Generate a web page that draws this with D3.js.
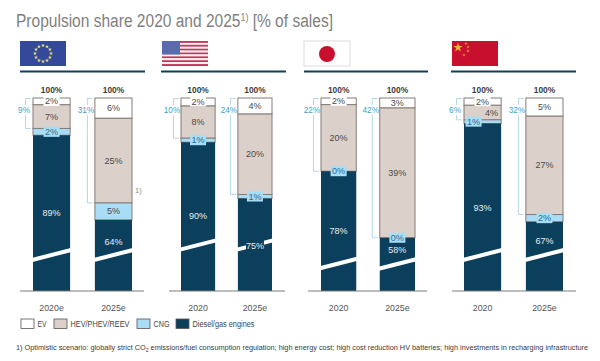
<!DOCTYPE html>
<html>
<head>
<meta charset="utf-8">
<script src="https://cdn.jsdelivr.net/npm/d3@7"></script>
<style>
  html, body { margin: 0; padding: 0; background: #fff; }
  svg { display: block; }
  text { font-family: "Liberation Sans", Arial, sans-serif; }
</style>
</head>
<body>
<div class="canva"></div>
<script>
const regions = ['EU', 'USA', 'Japan', 'China']
const years = [['2020e', '2025e'], ['2020', '2025e'], ['2020', '2025e'], ['2020', '2025e']]
const ev = [[2, 6], [2, 4], [2, 3], [2, 5]]
const hev = [[7, 25], [8, 20], [20, 39], [4, 27]]
const cng = [[2, 5], [1, 1], [0, 0], [1, 2]]
const diesel = [[89, 64], [90, 75], [78, 58], [93, 67]]
const electrified = [[9, 31], [10, 24], [22, 42], [6, 32]]
const seriesKeys = ['ev', 'hev', 'cng', 'diesel']
const legendLabels = ['EV', 'HEV/PHEV/REEV', 'CNG', 'Diesel/gas engines']

// bars are cut by the white break, so each panel only shows the top part of the 0-100 range
const visibleShare = [57, 48, 58, 53]

const colors = {ev: '#ffffff', hev: '#dbd1ca', cng: '#a9dcf5', diesel: '#0c3f5b'}
const panels = [
    {bars: [33, 132], rule: [20, 145], base: [20, 144], flag: 20, breakY: [255, 255], labelY: [213, 242]},
    {bars: [181, 272], rule: [161, 286], base: [169, 285], flag: 162, breakY: [245, 245], labelY: [216, 246]},
    {bars: [321, 415], rule: [304, 428], base: [308, 427], flag: 304, breakY: [263.5, 264], labelY: [231, 250]},
    {bars: [464, 563], rule: [451, 576], base: [452, 576], flag: 452, breakY: [255, 255], labelY: [208, 241]}
]
const barTop = 98
const barBottom = 291

const svg = d3.select('.canva').append('svg')
    .attr('width', 600)
    .attr('height', 361)

const txt = '#4a4a4a'

// squeeze a text to the width it has in the picture
function fitWidth(sel, x, y, width) {
    const w = sel.node().getComputedTextLength()
    sel.attr('x', 0).attr('y', 0)
        .attr('transform', `translate(${x}, ${y}) scale(${width / w}, 1)`)
}

// title
const title = svg.append('text')
    .attr('font-size', 17.6)
    .attr('fill', '#7f7f7f')
title.append('tspan').text('Propulsion share 2020 and 2025')
title.append('tspan').text('1)').attr('font-size', 10).attr('dy', -6)
title.append('tspan').text(' [% of sales]').attr('dy', 6)
fitWidth(title, 16, 27, 317)

panels.forEach((p, i) => {
    const x = d3.scaleBand()
        .domain(years[i])
        .range(p.bars)
        .paddingInner(0.4)
        .paddingOuter(0)
    const y = d3.scaleLinear()
        .domain([0, visibleShare[i]])
        .range([barTop, barBottom])
        .clamp(true)

    const table = years[i].map((yr, j) => ({
        year: yr, ev: ev[i][j], hev: hev[i][j], cng: cng[i][j], diesel: diesel[i][j]
    }))
    const stacked = d3.stack().keys(seriesKeys)(table)
    const g = svg.append('g').attr('class', 'panel-' + regions[i])

    g.append('line')
        .attr('x1', p.rule[0]).attr('x2', p.rule[1])
        .attr('y1', 71.5).attr('y2', 71.5)
        .attr('stroke', '#123f52').attr('stroke-width', 2)

    // stacked segments
    stacked.forEach(s => {
        g.selectAll('.seg-' + s.key)
            .data(s)
            .enter()
            .append('rect')
            .attr('class', 'seg-' + s.key)
            .attr('x', d => x(d.data.year))
            .attr('y', d => y(d[0]))
            .attr('width', x.bandwidth())
            .attr('height', d => y(d[1]) - y(d[0]))
            .attr('fill', colors[s.key])
            .attr('stroke', s.key === 'diesel' ? 'none' : '#857c76')
            .attr('stroke-width', 1)
    })

    // axis break across the diesel part
    const slant = x.bandwidth() * 0.135
    g.selectAll('.break')
        .data(years[i])
        .enter()
        .append('path')
        .attr('class', 'break')
        .attr('d', (d, j) => `M${x(d) - 1},${p.breakY[j] + slant} L${x(d) + x.bandwidth() + 1},${p.breakY[j] - slant}`)
        .attr('stroke', '#fff')
        .attr('stroke-width', 4)

    // baseline and year labels
    g.append('line')
        .attr('x1', p.base[0]).attr('x2', p.base[1])
        .attr('y1', barBottom).attr('y2', barBottom)
        .attr('stroke', '#7b7b7b').attr('stroke-width', 1)

    const xAxis = d3.axisBottom(x).tickSize(0).tickPadding(14)
    const xAxisGroup = g.append('g')
        .attr('transform', `translate(0, ${barBottom})`)
        .call(xAxis)
    xAxisGroup.select('.domain').remove()
    xAxisGroup.selectAll('text')
        .attr('font-size', 8.8)
        .attr('font-family', '"Liberation Sans", Arial, sans-serif')
        .attr('fill', '#555')

    // totals on top
    g.selectAll('.total')
        .data(years[i])
        .enter()
        .append('text')
        .attr('class', 'total')
        .attr('x', d => x(d) + x.bandwidth() / 2)
        .attr('y', 93)
        .attr('text-anchor', 'middle')
        .attr('font-size', 8.4)
        .attr('font-weight', 'bold')
        .attr('fill', '#3c3c3c')
        .text('100%')

    // brackets with the electrified sum
    years[i].forEach((yr, j) => {
        const left = x(yr)
        const bottom = y(ev[i][j] + hev[i][j])
        g.append('path')
            .attr('d', `M${left - 2},${barTop + 0.5} H${left - 7.5} V${bottom} H${left - 2}`)
            .attr('fill', 'none')
            .attr('stroke', '#b3d8e6')
            .attr('stroke-width', 1)
        g.append('rect')
            .attr('x', left - 17).attr('y', 105)
            .attr('width', 16).attr('height', 10)
            .attr('fill', '#fff')
        g.append('text')
            .attr('x', left - 9)
            .attr('y', 113)
            .attr('text-anchor', 'middle')
            .attr('font-size', 8.2)
            .attr('fill', '#3f9fc4')
            .text(electrified[i][j] + '%')
    })

    // segment labels
    stacked.forEach(s => {
        s.forEach((d, j) => {
            const v = d.data[s.key]
            const mid = s.key === 'diesel' ? p.labelY[j] : (y(d[0]) + y(d[1])) / 2
            let cx = x(d.data.year) + x.bandwidth() / 2
            // China 2020 segments are too thin, labels sit side by side
            if (regions[i] === 'China' && j === 0 && s.key === 'hev') cx += 9
            if (regions[i] === 'China' && j === 0 && s.key === 'cng') cx -= 9
            const small = v <= 2
            if (s.key === 'cng' && small) {
                g.append('rect')
                    .attr('x', cx - 8).attr('y', mid - 5)
                    .attr('width', 16).attr('height', 10)
                    .attr('fill', colors.cng)
            }
            if (s.key === 'ev' && small) {
                g.append('rect')
                    .attr('x', cx - 8).attr('y', mid - 5)
                    .attr('width', 16).attr('height', 9.5)
                    .attr('fill', '#fff')
            }
            if (s.key === 'diesel' && regions[i] === 'USA' && j === 1) {
                g.append('rect')
                    .attr('x', cx - 9).attr('y', mid - 6)
                    .attr('width', 18).attr('height', 12)
                    .attr('fill', colors.diesel)
            }
            g.append('text')
                .attr('x', cx)
                .attr('y', mid + 3)
                .attr('text-anchor', 'middle')
                .attr('font-size', 9)
                .attr('fill', s.key === 'diesel' ? '#e6eef2' : (s.key === 'cng' && small ? '#2c6f92' : txt))
                .text(v + '%')
        })
    })
})

// footnote marker next to the EU 2025 bar
svg.append('text')
    .attr('x', 135).attr('y', 193)
    .attr('font-size', 7.5)
    .attr('fill', '#888')
    .text('1)')

// flags
const flagW = 46
const flagH = 25
const flagTop = 41

const eu = svg.append('g').attr('transform', `translate(${panels[0].flag}, ${flagTop})`)
eu.append('rect').attr('width', flagW).attr('height', flagH).attr('fill', '#34499a')
eu.selectAll('path')
    .data(d3.range(12))
    .enter()
    .append('path')
    .attr('d', d3.symbol(d3.symbolStar, 5))
    .attr('fill', '#e6dc7a')
    .attr('transform', d => {
        const a = d / 12 * 2 * Math.PI
        return `translate(${flagW / 2 + 8 * Math.sin(a)}, ${flagH / 2 - 8 * Math.cos(a)})`
    })

const us = svg.append('g').attr('transform', `translate(${panels[1].flag}, ${flagTop})`)
const stripe = d3.scaleBand().domain(d3.range(13)).range([0, flagH])
us.selectAll('rect')
    .data(d3.range(13))
    .enter()
    .append('rect')
    .attr('y', d => stripe(d))
    .attr('width', flagW)
    .attr('height', stripe.bandwidth())
    .attr('fill', d => d % 2 ? '#f6eef0' : '#c4365a')
us.append('rect').attr('width', 18).attr('height', 13.5).attr('fill', '#5a6cae')

const jp = svg.append('g').attr('transform', `translate(${panels[2].flag}, ${flagTop})`)
jp.append('rect').attr('width', flagW).attr('height', flagH)
    .attr('fill', '#fff').attr('stroke', '#dcdcdc')
jp.append('circle').attr('cx', 23).attr('cy', 13).attr('r', 8).attr('fill', '#c8102e')

const cn = svg.append('g').attr('transform', `translate(${panels[3].flag}, ${flagTop})`)
cn.append('rect').attr('width', flagW).attr('height', flagH).attr('fill', '#c8102e')
cn.append('path')
    .attr('d', d3.symbol(d3.symbolStar, 28))
    .attr('transform', 'translate(6, 6.5)')
    .attr('fill', '#f5b335')
cn.selectAll('.small-star')
    .data([[14, 2.5], [16, 6], [16, 10], [12, 14]])
    .enter()
    .append('path')
    .attr('class', 'small-star')
    .attr('d', d3.symbol(d3.symbolStar, 4))
    .attr('transform', d => `translate(${d[0]}, ${d[1]})`)
    .attr('fill', '#eb8a3a')

// legend
const legendX = [21, 54, 137, 176]
const legendTextW = [9, 59, 16, 62]
const legend = svg.selectAll('.legend')
    .data(seriesKeys)
    .enter()
    .append('g')
    .attr('class', 'legend')
    .attr('transform', (d, i) => `translate(${legendX[i]}, 319)`)
legend.append('rect')
    .attr('width', 13)
    .attr('height', 9.5)
    .attr('fill', d => colors[d])
    .attr('stroke', '#555')
    .attr('stroke-width', 0.8)
legend.append('text')
    .attr('font-size', 8.6)
    .attr('fill', '#444')
    .text((d, i) => legendLabels[i])
    .each(function (d, i) {
        fitWidth(d3.select(this), 16.5, 8, legendTextW[i])
    })

// footnote
const foot = svg.append('text')
    .attr('font-size', 7.9)
    .attr('fill', '#3a3a3a')
foot.append('tspan').text('1) Optimistic scenario: globally strict CO')
foot.append('tspan').text('2').attr('font-size', 5.5).attr('dy', 2)
foot.append('tspan').text(' emissions/fuel consumption regulation; high energy cost; high cost reduction HV batteries; high investments in recharging infrastructure').attr('dy', -2)
fitWidth(foot, 16, 350, 572)
</script>
</body>
</html>
